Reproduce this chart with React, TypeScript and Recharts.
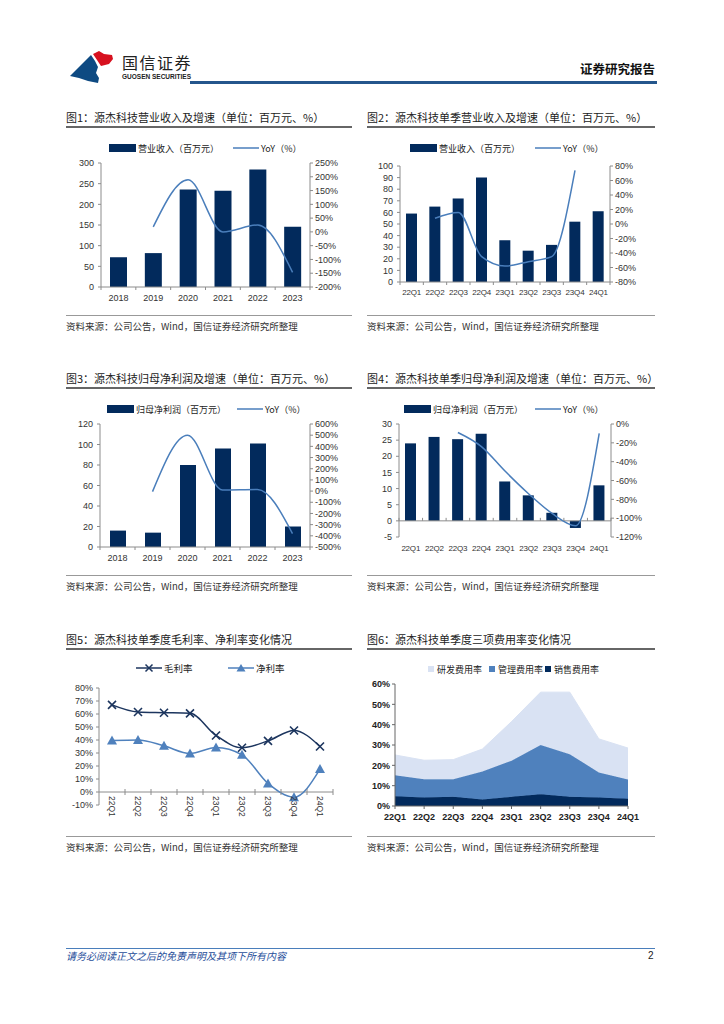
import React from "react";
import {
  ComposedChart,
  LineChart,
  AreaChart,
  Bar,
  Line,
  Area,
  XAxis,
  YAxis,
  ReferenceLine,
} from "recharts";

// ---- data ----
const years = ["2018", "2019", "2020", "2021", "2022", "2023"];
const annualRevenue = [72, 82, 236, 233, 284, 146];
const annualRevenueYoy = [null, 18, 189, 0, 25, -147];
const annualProfit = [16, 14, 80, 96, 101, 20];
const annualProfitYoy = [null, -5, 500, 10, 15, -380];

const quarters = ["22Q1", "22Q2", "22Q3", "22Q4", "23Q1", "23Q2", "23Q3", "23Q4", "24Q1"];
const qRevenue = [59, 65, 72, 90, 36, 27, 32, 52, 61];
const qRevenueYoy = [null, 8, 16, -45, -58, -52, -45, 74, null];
const qProfit = [24, 26, 25.3, 27, 12.2, 7.9, 2.5, -2.2, 11];
const qProfitYoy = [null, null, -9, -24, -50, -74, -95, -108, -10];

const grossMargin = [67, 61.5, 61, 60.5, 43.5, 34, 39.3, 47.3, 35];
const netMargin = [39.6, 40, 35.5, 29.6, 34.2, 28.6, 6.6, -4, 17.6];

const salesRate = [4.8, 4.2, 4.5, 3.2, 4.5, 5.8, 4.5, 4.2, 3.6];
const adminRate = [10.3, 9.0, 8.7, 13.8, 17.8, 24.2, 21.0, 12.3, 9.4];
const rdRate = [10.0, 9.3, 9.6, 11.0, 19.2, 26.0, 30.5, 16.5, 15.5];

const ticks1L = [0, 50, 100, 150, 200, 250, 300];
const ticks1R = [-200, -150, -100, -50, 0, 50, 100, 150, 200, 250];
const ticks2L = [0, 10, 20, 30, 40, 50, 60, 70, 80, 90, 100];
const ticks2R = [-80, -60, -40, -20, 0, 20, 40, 60, 80];
const ticks3L = [0, 20, 40, 60, 80, 100, 120];
const ticks3R = [-500, -400, -300, -200, -100, 0, 100, 200, 300, 400, 500, 600];
const ticks4L = [-5, 0, 5, 10, 15, 20, 25, 30];
const ticks4R = [-120, -100, -80, -60, -40, -20, 0];
const ticks5 = [-10, 0, 10, 20, 30, 40, 50, 60, 70, 80];
const ticks6 = [0, 10, 20, 30, 40, 50, 60];

// ---- styles ----
const NAVY = "#022a5c";
const LINE = "#4a7ebb";
const DARKLINE = "#1c355e";
const AREA_LIGHT = "#d9e2f3";
const AREA_MID = "#4f81bd";
const AXIS = "#8c8c8c";
const CJK = '"Noto Sans CJK SC", "Liberation Sans", sans-serif';
const NUM = '"Liberation Sans", Arial, sans-serif';
const tickStyle = { fontSize: 9, fill: "#333", fontFamily: NUM };
const pct = (v: number) => `${v}%`;

const mk = (cats: string[], bar: (number | null)[], yoy: (number | null)[]) =>
  cats.map((c, i) => ({ cat: c, bar: bar[i], yoy: yoy[i] }));

// category ticks with marks at the band boundaries
const bandTick =
  (band: number, count: number, labelDy: number, markOff: number, up: boolean, fs: number) =>
  (p: any) => {
    const { x, y, payload, index } = p;
    const my = y - markOff;
    const y1 = up ? my - 3 : my;
    const y2 = up ? my : my + 3;
    return (
      <g key={`t-${index}`}>
        <line x1={x - band / 2} x2={x - band / 2} y1={y1} y2={y2} stroke={AXIS} />
        {index === count - 1 && (
          <line x1={x + band / 2} x2={x + band / 2} y1={y1} y2={y2} stroke={AXIS} />
        )}
        <text x={x} y={y + labelDy} textAnchor="middle" {...tickStyle} fontSize={fs} letterSpacing={fs < 9 ? -0.2 : 0}>
          {payload.value}
        </text>
      </g>
    );
  };

function LegendItem({ x, y, kind, color, label, size = 9 }: any) {
  let sw: React.ReactNode = null;
  if (kind === "bar") sw = <div style={{ width: 27, height: 8, background: color, marginRight: 2 }} />;
  if (kind === "square") sw = <div style={{ width: 6, height: 6, background: color, marginRight: 3 }} />;
  if (kind === "line" || kind === "lineX" || kind === "lineTri")
    sw = (
      <svg width={26} height={10} style={{ marginRight: 2 }}>
        <line x1={0} x2={26} y1={5} y2={5} stroke={color} strokeWidth={1.5} />
        {kind === "lineX" && (
          <path d="M9.5,1.5L16.5,8.5M16.5,1.5L9.5,8.5" stroke={color} strokeWidth={1.5} />
        )}
        {kind === "lineTri" && <path d="M13,1L17.5,8.5L8.5,8.5Z" fill={color} />}
      </svg>
    );
  return (
    <div
      style={{
        position: "absolute",
        left: x,
        top: y - 7,
        height: 14,
        display: "flex",
        alignItems: "center",
        fontSize: size,
        color: "#222",
        whiteSpace: "nowrap",
        fontFamily: CJK,
      }}
    >
      {sw}
      <span>{label}</span>
    </div>
  );
}

function Panel({ x, y, w, title, sourceY }: any) {
  return (
    <>
      <div
        style={{
          position: "absolute",
          left: x,
          top: y - 8,
          height: 16,
          lineHeight: "16px",
          fontSize: 11,
          color: "#222",
          whiteSpace: "nowrap",
          fontFamily: CJK,
        }}
      >
        {title}
      </div>
      <div style={{ position: "absolute", left: x, top: y + 9, width: w, height: 1.5, background: "#666" }} />
      <div style={{ position: "absolute", left: x, top: sourceY - 11, width: w, height: 1, background: "#999" }} />
      <div
        style={{
          position: "absolute",
          left: x,
          top: sourceY - 7,
          height: 14,
          lineHeight: "14px",
          fontSize: 9.5,
          color: "#333",
          whiteSpace: "nowrap",
          fontFamily: CJK,
        }}
      >
        资料来源：公司公告，Wind，国信证券经济研究所整理
      </div>
    </>
  );
}

function BarYoyChart(props: any) {
  const { left, top, width, height, mTop, lw, rw, data, lDom, lTicks, rDom, rTicks, barSize, labelDy, zeroMarks, bottomLine, catFs = 9 } =
    props;
  const mRight = 6;
  const plotW = width - lw - rw - mRight;
  const plotH = height - mTop - 20;
  const band = plotW / data.length;
  const markOff = zeroMarks ? (plotH * (0 - lDom[0])) / (lDom[1] - lDom[0]) : 0;
  return (
    <div style={{ position: "absolute", left, top }}>
      <ComposedChart width={width} height={height} data={data} margin={{ top: mTop, right: mRight, left: 0, bottom: 0 }}>
        <XAxis
          dataKey="cat"
          interval={0}
          height={20}
          axisLine={bottomLine ? { stroke: AXIS } : false}
          tickLine={false}
          tickSize={0}
          tickMargin={0}
          tick={bandTick(band, data.length, labelDy, markOff, !!zeroMarks, catFs)}
        />
        <YAxis
          yAxisId="l"
          width={lw}
          domain={lDom}
          ticks={lTicks}
          interval={0}
          axisLine={{ stroke: AXIS }}
          tickLine={{ stroke: AXIS }}
          tickSize={3}
          tickMargin={4}
          tick={tickStyle}
        />
        <YAxis
          yAxisId="r"
          orientation="right"
          width={rw}
          domain={rDom}
          ticks={rTicks}
          interval={0}
          tickFormatter={pct}
          axisLine={{ stroke: AXIS }}
          tickLine={{ stroke: AXIS }}
          tickSize={3}
          tickMargin={2}
          tick={tickStyle}
        />
        {zeroMarks && <ReferenceLine yAxisId="l" y={0} stroke={AXIS} />}
        <Bar yAxisId="l" dataKey="bar" fill={NAVY} barSize={barSize} isAnimationActive={false} />
        <Line
          yAxisId="r"
          dataKey="yoy"
          type="monotone"
          stroke={LINE}
          strokeWidth={1.5}
          dot={false}
          isAnimationActive={false}
        />
      </ComposedChart>
    </div>
  );
}

const XDot = (p: any) => {
  const { cx, cy, index } = p;
  if (cx == null || cy == null) return <g key={`xd-${index}`} />;
  const s = 4;
  return (
    <path
      key={`xd-${index}`}
      d={`M${cx - s},${cy - s}L${cx + s},${cy + s}M${cx + s},${cy - s}L${cx - s},${cy + s}`}
      stroke={DARKLINE}
      strokeWidth={1.6}
      fill="none"
    />
  );
};
const TriDot = (p: any) => {
  const { cx, cy, index } = p;
  if (cx == null || cy == null) return <g key={`td-${index}`} />;
  return <path key={`td-${index}`} d={`M${cx},${cy - 5}L${cx + 5},${cy + 4}L${cx - 5},${cy + 4}Z`} fill={AREA_MID} />;
};

function MarginChart() {
  const width = 287;
  const height = 152;
  const mTop = 13;
  const plotH = height - mTop - 20 - 2;
  const zeroOff = (plotH * 10) / 90;
  const band = (width - 43 - 10) / quarters.length;
  const data = quarters.map((q, i) => ({ cat: q, gross: grossMargin[i], net: netMargin[i] }));
  const tick = (p: any) => {
    const { x, y, payload, index } = p;
    const zy = y - zeroOff;
    return (
      <g key={`m-${index}`}>
        <line x1={x + band / 2} x2={x + band / 2} y1={zy - 3} y2={zy + 3} stroke={AXIS} />
        <text
          transform={`translate(${x},${zy + 4}) rotate(90)`}
          textAnchor="start"
          dominantBaseline="central"
          {...tickStyle}
          fontSize={8.5}
        >
          {payload.value}
        </text>
      </g>
    );
  };
  return (
    <div style={{ position: "absolute", left: 56, top: 675 }}>
      <LineChart width={width} height={height} data={data} margin={{ top: mTop, right: 10, left: 0, bottom: 20 }}>
        <XAxis
          dataKey="cat"
          interval={0}
          height={2}
          padding={{ left: band / 2, right: band / 2 }}
          axisLine={false}
          tickLine={false}
          tickSize={0}
          tickMargin={0}
          tick={tick}
        />
        <YAxis
          width={43}
          domain={[-10, 80]}
          ticks={ticks5}
          interval={0}
          tickFormatter={pct}
          axisLine={{ stroke: AXIS }}
          tickLine={{ stroke: AXIS }}
          tickSize={3}
          tickMargin={3}
          tick={tickStyle}
        />
        <ReferenceLine y={0} stroke={AXIS} />
        <Line
          dataKey="gross"
          type="monotone"
          stroke={DARKLINE}
          strokeWidth={1.5}
          dot={XDot}
          isAnimationActive={false}
        />
        <Line
          dataKey="net"
          type="monotone"
          stroke={AREA_MID}
          strokeWidth={1.5}
          dot={TriDot}
          isAnimationActive={false}
        />
      </LineChart>
    </div>
  );
}

function ExpenseChart() {
  const data = quarters.map((q, i) => ({ cat: q, sales: salesRate[i], admin: adminRate[i], rd: rdRate[i] }));
  const t = { ...tickStyle, fill: "#222", fontWeight: 600 };
  return (
    <div style={{ position: "absolute", left: 350, top: 675 }}>
      <AreaChart width={303} height={151} data={data} margin={{ top: 9, right: 25, left: 0, bottom: 0 }}>
        <XAxis
          dataKey="cat"
          interval={0}
          height={20}
          axisLine={{ stroke: "#666" }}
          tickLine={{ stroke: "#666" }}
          tickSize={3}
          tickMargin={5}
          tick={t}
        />
        <YAxis
          width={45}
          domain={[0, 60]}
          ticks={ticks6}
          interval={0}
          tickFormatter={pct}
          axisLine={{ stroke: "#666" }}
          tickLine={{ stroke: "#666" }}
          tickSize={3}
          tickMargin={2}
          tick={t}
        />
        <Area dataKey="sales" stackId="1" type="linear" fill={NAVY} stroke={NAVY} fillOpacity={1} isAnimationActive={false} />
        <Area dataKey="admin" stackId="1" type="linear" fill={AREA_MID} stroke={AREA_MID} fillOpacity={1} isAnimationActive={false} />
        <Area dataKey="rd" stackId="1" type="linear" fill={AREA_LIGHT} stroke={AREA_LIGHT} fillOpacity={1} isAnimationActive={false} />
      </AreaChart>
    </div>
  );
}

function Header() {
  return (
    <>
      <svg width={50} height={36} style={{ position: "absolute", left: 68, top: 50 }}>
        <path d="M2,26 L23,5 L27,11 L30,17 L28,23 L31,28 L30,33 L20,31 L11,28 Z" fill="#0e4a82" />
        <path d="M25,4 L31,1 L36,4 L44,5 L45,9 L41,14 L33,16 L29,10 Z" fill="#d7111f" />
      </svg>
      <div
        style={{
          position: "absolute",
          left: 122,
          top: 52,
          fontSize: 16,
          lineHeight: "20px",
          color: "#222",
          letterSpacing: 1.5,
          fontFamily: CJK,
        }}
      >
        国信证券
      </div>
      <div
        style={{
          position: "absolute",
          left: 122,
          top: 73,
          fontSize: 6.5,
          lineHeight: "8px",
          color: "#222",
          fontWeight: 700,
          fontFamily: NUM,
          whiteSpace: "nowrap",
        }}
      >
        GUOSEN SECURITIES
      </div>
      <div style={{ position: "absolute", left: 190, top: 81, width: 467, height: 2.5, background: "#24568c" }} />
      <div
        style={{
          position: "absolute",
          left: 580,
          top: 60,
          fontSize: 12.5,
          lineHeight: "18px",
          fontWeight: 700,
          color: "#111",
          fontFamily: CJK,
          whiteSpace: "nowrap",
        }}
      >
        证券研究报告
      </div>
    </>
  );
}

export default function App() {
  return (
    <div
      style={{
        position: "absolute",
        left: 0,
        top: 0,
        width: 724,
        height: 1024,
        background: "#fff",
        fontFamily: CJK,
        overflow: "hidden",
      }}
    >
      <Header />

      <Panel x={66} y={117} w={286} title="图1：源杰科技营业收入及增速（单位：百万元、%）" sourceY={326} />
      <Panel x={367} y={117} w={288} title="图2：源杰科技单季营业收入及增速（单位：百万元、%）" sourceY={326} />
      <Panel x={66} y={378} w={286} title="图3：源杰科技归母净利润及增速（单位：百万元、%）" sourceY={586} />
      <Panel x={367} y={378} w={288} title="图4：源杰科技单季归母净利润及增速（单位：百万元、%）" sourceY={586} />
      <Panel x={66} y={639} w={286} title="图5：源杰科技单季度毛利率、净利率变化情况" sourceY={847} />
      <Panel x={367} y={639} w={288} title="图6：源杰科技单季度三项费用率变化情况" sourceY={847} />

      <LegendItem x={109} y={148} kind="bar" color={NAVY} label="营业收入（百万元）" />
      <LegendItem x={233} y={148} kind="line" color={LINE} label="YoY（%）" />
      <BarYoyChart
        left={56}
        top={155}
        width={310}
        height={152}
        mTop={8}
        lw={45}
        rw={50}
        data={mk(years, annualRevenue, annualRevenueYoy)}
        lDom={[0, 300]}
        lTicks={ticks1L}
        rDom={[-200, 250]}
        rTicks={ticks1R}
        barSize={17}
        labelDy={14}
        bottomLine
      />

      <LegendItem x={410} y={148} kind="bar" color={NAVY} label="营业收入（百万元）" />
      <LegendItem x={535} y={148} kind="line" color={LINE} label="YoY（%）" />
      <BarYoyChart
        left={356}
        top={155}
        width={310}
        height={147}
        mTop={11}
        lw={44}
        rw={50}
        data={mk(quarters, qRevenue, qRevenueYoy)}
        lDom={[0, 100]}
        lTicks={ticks2L}
        rDom={[-80, 80]}
        rTicks={ticks2R}
        barSize={11}
        labelDy={13}
        catFs={8}
        bottomLine
      />

      <LegendItem x={107} y={409} kind="bar" color={NAVY} label="归母净利润（百万元）" />
      <LegendItem x={237} y={409} kind="line" color={LINE} label="YoY（%）" />
      <BarYoyChart
        left={56}
        top={415}
        width={310}
        height={152}
        mTop={9}
        lw={44}
        rw={50}
        data={mk(years, annualProfit, annualProfitYoy)}
        lDom={[0, 120]}
        lTicks={ticks3L}
        rDom={[-500, 600]}
        rTicks={ticks3R}
        barSize={16}
        labelDy={14}
        bottomLine
      />

      <LegendItem x={404} y={409} kind="bar" color={NAVY} label="归母净利润（百万元）" />
      <LegendItem x={535} y={409} kind="line" color={LINE} label="YoY（%）" />
      <BarYoyChart
        left={356}
        top={415}
        width={310}
        height={142}
        mTop={9}
        lw={43}
        rw={49}
        data={mk(quarters, qProfit, qProfitYoy)}
        lDom={[-5, 30]}
        lTicks={ticks4L}
        rDom={[-120, 0]}
        rTicks={ticks4R}
        barSize={11}
        labelDy={14}
        catFs={8}
        zeroMarks
      />

      <LegendItem x={136} y={668} kind="lineX" color={DARKLINE} label="毛利率" size={9.5} />
      <LegendItem x={228} y={668} kind="lineTri" color={AREA_MID} label="净利率" size={9.5} />
      <MarginChart />

      <LegendItem x={428} y={669} kind="square" color={AREA_LIGHT} label="研发费用率" size={9} />
      <LegendItem x={489} y={669} kind="square" color={AREA_MID} label="管理费用率" size={9} />
      <LegendItem x={545} y={669} kind="square" color={NAVY} label="销售费用率" size={9} />
      <ExpenseChart />

      <div style={{ position: "absolute", left: 66, top: 948, width: 589, height: 1, background: "#4a7ebb" }} />
      <div
        style={{
          position: "absolute",
          left: 66,
          top: 949,
          fontSize: 10,
          lineHeight: "14px",
          fontStyle: "italic",
          color: "#1f4e9a",
          fontFamily: CJK,
          whiteSpace: "nowrap",
        }}
      >
        请务必阅读正文之后的免责声明及其项下所有内容
      </div>
      <div style={{ position: "absolute", left: 648, top: 949, fontSize: 10, lineHeight: "14px", color: "#222", fontFamily: NUM }}>
        2
      </div>
    </div>
  );
}
